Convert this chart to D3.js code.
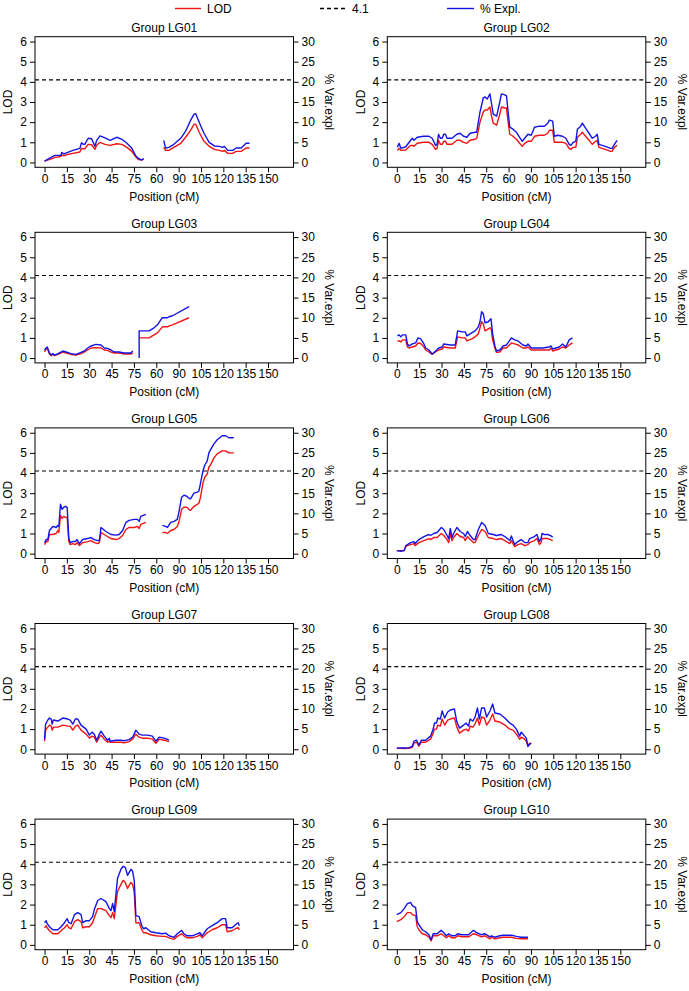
<!DOCTYPE html>
<html><head><meta charset="utf-8">
<script src="https://cdn.jsdelivr.net/npm/d3@7/dist/d3.min.js"></script>
<style>body{margin:0;background:#fff}svg{display:block}text{font-family:"Liberation Sans",Arial,sans-serif}</style>
</head><body><svg id="c" width="689" height="991"></svg>
<script>
// ---- data ----
const groups = ["LG01","LG02","LG03","LG04","LG05","LG06","LG07","LG08","LG09","LG10"];
const threshold = 4.1;
const xTickValues = [0,15,30,45,60,75,90,105,120,135,150];
const xTickLabels = ["0","15","30","45","75","60","90","105","120","135","150"];
const lodTicks = [0,1,2,3,4,5,6];
const pveTicks = [0,5,10,15,20,25,30];
const legendLabels = ["LOD","4.1","% Expl."];

const lg01Pos = [0,5.6,7,9,11,11.5,13,14.7,19,23.7,24.8,26,27,29.3,31.6,33.8,35,37.2,40.6,44,48.5,51.9,55.3,58.6,61,63,65.4,66.5,73,80,81.2,83.5,86.8,91.4,94.7,98.1,100.4,101.5,103.8,107,110.5,114,117.3,119.5,120.7,123,126.3,128.6,132,135.3,137.6];
const lg01Lod = [0.07,0.2,0.25,0.27,0.3,0.38,0.33,0.38,0.45,0.52,0.7,0.68,0.68,0.9,0.88,0.65,0.85,1.0,0.9,0.85,0.93,0.9,0.75,0.55,0.3,0.15,0.12,0.18,null,0.75,0.6,0.6,0.75,0.95,1.25,1.6,1.9,1.9,1.5,1.05,0.8,0.65,0.6,0.55,0.6,0.45,0.45,0.55,0.55,0.72,0.72];
const lg01Pve = [0.35,1.5,1.75,1.75,1.75,2.5,2.1,2.4,3.0,3.5,4.9,4.5,4.5,6.0,5.9,4.0,5.5,6.6,6.1,5.5,6.25,5.75,4.75,3.5,1.75,1.0,0.6,1.0,null,5.5,3.6,3.75,4.5,6.0,7.75,10.5,12.0,12.1,10.0,7.25,5.0,4.1,4.0,3.75,4.0,3.0,3.0,3.6,3.6,4.75,4.75];

const lg02Pos = [0.4,1.5,2.7,6,9.3,10.4,11.5,13.7,18,21.5,23.7,26,27,28,29.2,30.4,31.5,32.6,33.7,37,40.3,42.5,44.8,47,49.2,52.5,53.6,55.8,58,59.2,60.7,62.5,63.6,64.7,67,69.1,70.2,72.5,73.6,74.7,75.8,78,80.2,82.4,84.2,85.8,88,90.2,92.4,95.7,99,101.3,102.4,104.6,105.7,107.9,111.2,113.4,115.7,116.8,118.3,120.1,121.2,123.4,124.5,126.7,129,131.2,133.4,134.5,135.6,140,143.4,144.5,145.6,147.8];
const lg02Lod = [0.6,0.7,0.6,0.62,0.85,0.85,0.8,0.95,1.0,1.0,0.9,0.65,0.7,1.1,0.9,0.9,1.05,1.05,0.9,0.9,1.1,1.1,1.0,0.95,1.1,1.15,1.2,2.0,2.5,2.6,2.6,2.75,2.3,1.95,1.85,2.4,2.75,2.7,2.7,2.0,1.4,1.3,1.15,0.95,0.8,0.95,1.05,1.05,1.3,1.35,1.35,1.45,1.6,1.6,1.0,1.0,1.0,0.95,0.7,0.65,0.75,0.75,1.25,1.4,1.5,1.3,1.1,0.9,1.05,1.1,0.75,0.65,0.55,0.55,0.7,0.85];
const lg02Pve = [3.75,4.75,3.5,3.9,5.5,6.0,5.5,6.25,6.5,6.5,6.0,4.25,4.5,7.0,6.0,6.0,7.0,7.0,6.0,6.0,7.0,7.25,6.5,6.25,7.25,7.5,7.5,12.5,16.0,16.25,15.75,17.0,14.5,12.0,11.5,15.0,17.0,16.75,16.5,12.5,8.75,8.25,7.5,6.25,5.25,6.0,7.0,6.75,8.75,9.0,9.0,9.75,10.5,10.25,6.5,6.75,6.5,6.0,4.5,4.25,5.0,5.25,8.25,9.0,9.75,8.5,7.25,6.0,6.5,7.0,4.5,4.0,3.5,3.5,4.25,5.5];

const lg03Pos = [0,1.1,1.8,3.3,4.5,5.6,6.7,9,12.3,14.5,17.8,21.2,24.5,26.7,29,31.2,34.5,37.9,40.1,42.3,44.6,46.8,50.1,53.5,57.9,59.3,61.5,63.5,63.5,70.2,73.5,75.8,78,79.1,82.5,83.6,85.9,97];
const lg03Lod = [0.3,0.45,0.5,0.2,0.12,0.2,0.12,0.18,0.3,0.25,0.18,0.15,0.22,0.3,0.4,0.5,0.52,0.5,0.4,0.38,0.3,0.25,0.25,0.2,0.2,0.25,null,null,1.0,1.0,1.15,1.25,1.45,1.55,1.55,1.6,1.65,2.0];
const lg03Pve = [2.0,2.5,2.75,1.25,0.75,1.1,0.75,1.1,1.75,1.5,1.1,0.9,1.4,1.75,2.5,3.0,3.4,3.25,2.5,2.4,2.0,1.5,1.5,1.25,1.25,1.75,null,0,6.75,6.75,7.5,8.25,9.5,10.0,10.0,10.25,10.5,12.75];

const lg04Pos = [0.4,1.6,2.7,3.8,6,7.1,8.2,10.4,12.6,14.2,16,18.2,19.3,21.5,23.7,26,28.1,30.4,31.5,35.9,39.2,40.8,43.7,45.9,47,50.3,52.5,54.7,55.8,56.9,58,59.2,61.4,62.5,63.2,64.3,65.8,66.9,69.1,71.3,73.6,76.9,79.1,81.3,84.6,86.9,88,90.2,93.5,97.9,102.4,103.5,104.6,109,111.2,113.4,115.7,117.9];
const lg04Lod = [0.85,0.85,0.8,0.9,0.9,0.55,0.5,0.55,0.6,0.75,0.72,0.55,0.4,0.3,0.18,0.3,0.4,0.45,0.55,0.5,0.5,1.05,1.0,1.0,0.85,0.95,1.05,1.2,1.5,1.8,1.7,1.35,1.45,1.5,1.5,0.9,0.5,0.28,0.3,0.5,0.5,0.75,0.7,0.65,0.5,0.5,0.55,0.4,0.4,0.4,0.4,0.5,0.35,0.45,0.55,0.5,0.65,0.75];
const lg04Pve = [5.5,5.75,5.25,5.75,5.75,3.5,3.0,3.5,3.75,5.0,4.75,3.5,2.5,2.0,1.0,1.75,2.5,2.75,3.5,3.25,3.25,6.75,6.5,6.5,5.5,6.25,6.75,7.75,9.0,11.5,11.0,8.75,9.0,9.5,9.75,6.0,3.0,1.75,2.0,3.0,3.25,5.0,4.5,4.25,3.25,3.0,3.5,2.5,2.5,2.5,2.75,3.0,2.25,2.75,3.5,2.75,4.5,5.0];

const lg05Pos = [0,1.1,2.2,3.3,5.6,7.8,8.9,9.6,10.7,11.8,12.9,14,15.2,16.3,17.2,18.9,20.7,21.8,23.4,25.6,29,31.2,33.4,35.7,36.8,37.9,41.2,44.6,47.9,50.1,52.4,54.6,56.8,60.2,62.4,63.5,64.6,68,73,79.1,81.3,82.5,84.7,86.9,89.1,90.3,92,93.6,95.4,97,98,100.3,102.5,103.6,104.7,106.3,107.6,109.2,110.3,111.4,113.7,115.9,119.2,121.5,123.7,127];
const lg05Lod = [0.45,0.6,0.6,0.95,0.95,1.0,1.15,1.05,1.9,1.75,1.85,1.8,1.8,0.6,0.45,0.5,0.45,0.55,0.4,0.55,0.6,0.65,0.55,0.5,0.55,1.05,0.9,0.75,0.7,0.75,0.9,1.2,1.3,1.3,1.35,1.25,1.45,1.55,null,1.05,1.05,1.0,1.15,1.2,1.35,1.6,2.2,2.3,2.3,2.2,2.15,2.35,2.45,2.5,2.8,3.5,3.8,3.95,4.3,4.4,4.75,4.95,5.1,5.1,5.0,5.0];
const lg05Pve = [2.75,3.5,3.5,5.75,6.75,6.5,7.0,6.75,12.25,11.0,11.5,11.75,11.5,3.75,2.75,3.0,3.0,3.5,2.5,3.5,3.75,4.0,3.5,3.25,3.25,6.5,5.5,4.75,4.6,4.75,5.75,7.75,8.25,8.5,8.5,8.0,9.25,9.75,null,7.0,6.75,6.5,7.75,8.0,8.5,10.5,14.0,14.5,14.25,13.75,13.6,15.0,15.25,15.5,17.5,20.5,22.0,23.0,25.0,25.75,27.25,28.25,29.25,29.25,28.75,28.75];

const lg06Pos = [0,2.7,4.9,6,7.1,9.3,11.5,12.2,14.8,18.2,21.5,22.6,24.8,27,29.9,31.5,33.7,34.8,35.9,37,38.1,40.3,42.5,44.8,45.9,47.4,49.2,51.4,52.5,54.7,56.9,59.2,61.4,64.7,66.9,70.2,72.5,75.8,76.9,78,79.1,81.3,83.5,85.8,88,89.1,92.4,94,95.7,96.8,97.5,99,101.3,103.5,104.6];
const lg06Lod = [0.15,0.15,0.15,0.35,0.4,0.45,0.5,0.4,0.55,0.65,0.75,0.7,0.8,0.8,1.0,0.9,0.7,0.55,1.0,0.65,0.8,1.0,0.85,0.8,0.65,0.85,0.7,0.55,0.55,0.9,1.2,1.1,0.8,0.75,0.7,0.75,0.65,0.5,0.65,0.5,0.35,0.45,0.5,0.4,0.45,0.55,0.65,0.75,0.45,0.55,0.75,0.75,0.75,0.68,0.65];
const lg06Pve = [0.75,0.6,0.75,2.0,2.25,2.75,3.0,2.5,3.5,4.25,4.75,4.5,5.0,5.25,6.5,6.0,4.5,3.75,6.25,4.0,5.0,6.5,5.5,5.0,4.25,5.5,4.5,3.5,3.5,6.0,7.75,7.0,5.0,4.75,4.5,4.75,4.25,3.25,4.4,3.25,2.25,3.0,3.5,2.75,2.75,3.75,4.25,4.75,3.0,3.75,5.0,4.75,4.75,4.4,4.1];

const lg07Pos = [0,0.7,1.1,2.2,3.3,4.5,5.1,6,8.9,12.3,15.6,17.2,19,20.7,22.3,24.5,27.9,30.1,31.9,33.4,35,36.8,37.9,40.1,42.3,43.5,44.1,47.9,51.3,53.5,56.8,59.1,61.3,63.5,65.7,69.1,72.4,74.7,76.9,80.2,83.6];
const lg07Lod = [0.4,0.95,1.0,1.1,1.2,1.15,0.95,1.1,1.1,1.2,1.15,1.15,0.95,1.15,1.2,0.95,0.75,0.55,0.65,0.6,0.35,0.6,0.7,0.5,0.35,0.4,0.35,0.35,0.35,0.32,0.38,0.5,0.75,0.6,0.55,0.55,0.5,0.3,0.5,0.45,0.38];
const lg07Pve = [2.5,6.25,6.5,7.25,7.75,7.5,6.25,7.25,7.0,7.75,7.5,7.25,6.25,7.5,7.5,6.0,5.0,3.5,4.25,3.75,2.25,3.75,4.5,3.25,2.25,2.75,2.0,2.25,2.25,2.1,2.4,3.0,4.75,3.75,3.5,3.5,3.25,2.0,3.0,2.75,2.25];

const lg08Pos = [0,2.7,4.9,8.2,10.4,11.5,13.3,14.8,16.4,19.3,22.6,24.4,25.3,26.6,27.5,29.2,30.4,32.1,34.1,35.9,38.6,40.3,42.1,44.8,46.5,48.1,49.2,51,52.5,54.1,55.4,56.9,58.7,60.3,62.5,64.3,65.8,69.1,72.5,75.8,78,80.2,82.4,83.5,85.8,86.9,88,89.1,90.2];
const lg08Lod = [0.05,0.05,0.04,0.05,0.1,0.3,0.35,0.15,0.35,0.35,0.5,0.8,1.0,1.0,1.2,1.15,1.5,1.2,1.45,1.5,1.55,1.1,0.8,0.95,1.0,0.9,1.15,1.1,1.25,1.55,1.2,1.6,1.55,1.2,1.45,1.75,1.4,1.35,1.2,1.0,0.95,0.75,0.5,0.6,0.5,0.4,0.15,0.3,0.25];
const lg08Pve = [0.25,0.35,0.3,0.35,0.75,2.0,2.25,1.0,2.25,2.25,3.25,5.0,6.5,6.5,7.75,7.5,9.5,7.75,9.25,9.75,10.0,6.75,5.25,6.0,6.5,5.75,7.5,7.0,8.0,10.25,7.5,10.25,10.25,8.0,9.5,11.25,9.0,8.75,7.75,6.5,6.0,5.0,3.25,4.25,3.25,2.75,0.75,1.25,1.5];

const lg09Pos = [0,1.1,1.8,3.3,5.6,8.9,11.1,13.4,15.2,16.3,17.8,20.1,22.3,24.5,25.6,27.9,30.1,32.3,33.4,35.7,37.9,41.2,43.5,44.6,45.7,46.8,47.9,49,51.3,52.8,54.2,55.7,58,59.1,60.2,61.3,63.5,65.3,66.4,68,71.3,74.7,79.1,81.3,83.6,85.8,86.9,89.1,92,93.6,95.8,99.1,102.5,104.3,105.8,109.2,112.5,115.9,119.2,121.5,122.6,125.9,128.1,129.9,130.8];
const lg09Lod = [0.85,0.95,0.85,0.7,0.55,0.55,0.7,0.85,1.0,0.85,0.8,1.15,1.25,1.15,0.85,0.9,0.9,1.1,1.35,1.8,1.8,1.7,1.45,1.35,1.6,1.3,2.0,2.65,3.0,3.2,3.1,2.8,3.1,3.0,2.6,1.1,1.1,0.75,0.6,0.6,0.5,0.45,0.42,0.42,0.35,0.3,0.28,0.42,0.55,0.45,0.35,0.35,0.42,0.5,0.35,0.6,0.75,0.85,1.0,1.0,0.65,0.7,0.8,0.85,0.75];
const lg09Pve = [5.5,6.0,5.25,4.5,3.75,3.75,4.5,5.5,6.5,5.5,5.25,7.5,8.0,7.5,5.5,6.0,6.0,7.0,8.75,11.0,11.5,10.75,9.0,8.5,10.25,8.25,12.5,16.5,18.75,19.5,19.25,17.25,18.75,18.25,16.0,7.25,7.0,4.75,4.0,4.25,3.25,3.0,2.75,2.9,2.25,2.0,1.9,2.75,3.6,2.75,2.25,2.25,2.75,3.0,2.25,4.0,4.75,5.5,6.5,6.5,4.25,4.25,5.0,5.5,4.75];

const lg10Pos = [0,2.7,4.9,7.1,9.3,10.4,12.6,13.7,14.8,17.1,19.3,21.5,23,24.4,27,29.7,31.5,33.2,34.8,37,39.2,40.8,43.7,48.1,51.4,53.6,56.9,59.2,61.4,62.5,63.6,65.8,69.1,71.3,76.9,80.2,83.5,88];
const lg10Lod = [1.15,1.25,1.4,1.6,1.6,1.5,1.45,0.9,0.75,0.55,0.5,0.4,0.2,0.45,0.45,0.55,0.45,0.35,0.45,0.35,0.35,0.45,0.4,0.4,0.55,0.5,0.4,0.45,0.35,0.3,0.38,0.3,0.35,0.38,0.38,0.32,0.3,0.3];
const lg10Pve = [7.5,8.0,9.0,10.25,10.5,9.75,9.25,5.75,5.0,3.75,3.25,2.5,1.25,2.75,2.75,3.6,3.0,2.25,2.75,2.25,2.25,2.75,2.5,2.5,3.6,3.0,2.5,2.75,2.25,2.0,2.25,1.9,2.25,2.4,2.4,2.1,1.9,1.9];

const seriesData = {
  LG01:[lg01Pos,lg01Lod,lg01Pve], LG02:[lg02Pos,lg02Lod,lg02Pve], LG03:[lg03Pos,lg03Lod,lg03Pve],
  LG04:[lg04Pos,lg04Lod,lg04Pve], LG05:[lg05Pos,lg05Lod,lg05Pve], LG06:[lg06Pos,lg06Lod,lg06Pve],
  LG07:[lg07Pos,lg07Lod,lg07Pve], LG08:[lg08Pos,lg08Lod,lg08Pve], LG09:[lg09Pos,lg09Lod,lg09Pve],
  LG10:[lg10Pos,lg10Lod,lg10Pve]
};

// ---- layout ----
const RED = "#f01414", BLUE = "#1414e6";
const colX = [35, 387.3], boxW = 258.5, boxH = 130.6, top0 = 36.7, pitch = 195.6;
const FS = "12px";
const svg = d3.select("#c");

// legend
const lg = svg.append("g");
const legItems = [
  {x1:175, x2:201, color:RED, dash:null, tx:207, label:legendLabels[0]},
  {x1:320, x2:347, color:"#000", dash:"4,3", tx:352, label:legendLabels[1]},
  {x1:447, x2:474, color:BLUE, dash:null, tx:480, label:legendLabels[2]}
];
legItems.forEach(it=>{
  lg.append("line").attr("x1",it.x1).attr("x2",it.x2).attr("y1",8.5).attr("y2",8.5)
    .attr("stroke",it.color).attr("stroke-width",1.4).attr("stroke-dasharray",it.dash);
  lg.append("text").attr("x",it.tx).attr("y",8.5).attr("dy","0.35em").style("font-size",FS).text(it.label);
});

groups.forEach((g,i)=>{
  const col = i%2, row = Math.floor(i/2);
  const left = colX[col], top = top0 + row*pitch;
  const x = d3.scaleLinear().domain([-6.4,167.1]).range([left, left+boxW]);
  const y = d3.scaleLinear().domain([-0.24,6.24]).range([top+boxH, top]);
  const y2 = d3.scaleLinear().domain([-1.2,31.2]).range([top+boxH, top]);
  const p = svg.append("g");

  // title
  p.append("text").attr("x",left+boxW/2).attr("y",top-9).attr("dy","0.35em")
    .attr("text-anchor","middle").style("font-size",FS).text("Group "+g);

  // axes
  const ax = p.append("g").attr("transform",`translate(0,${top+boxH})`)
    .call(d3.axisBottom(x).tickValues(xTickValues).tickFormat((d,k)=>xTickLabels[k]).tickSize(5).tickPadding(2).tickSizeOuter(0));
  const ayl = p.append("g").attr("transform",`translate(${left},0)`)
    .call(d3.axisLeft(y).tickValues(lodTicks).tickFormat(d3.format("d")).tickSize(5).tickPadding(3).tickSizeOuter(0));
  const ayr = p.append("g").attr("transform",`translate(${left+boxW},0)`)
    .call(d3.axisRight(y2).tickValues(pveTicks).tickFormat(d3.format("d")).tickSize(5).tickPadding(3).tickSizeOuter(0));
  [ax,ayl,ayr].forEach(a=>{
    a.select(".domain").remove();
    a.selectAll("text").style("font-size",FS).attr("fill","#000").style("font-family",'"Liberation Sans",Arial,sans-serif');
    a.selectAll("line").attr("stroke","#000");
  });

  // box
  p.append("rect").attr("x",left).attr("y",top).attr("width",boxW).attr("height",boxH)
    .attr("fill","none").attr("stroke","#000").attr("stroke-width",1);

  // axis labels
  p.append("text").attr("x",left+boxW/2).attr("y",top+boxH+29).attr("dy","0.35em")
    .attr("text-anchor","middle").style("font-size",FS).text("Position (cM)");
  p.append("text").attr("transform",`translate(${left-27},${top+boxH/2}) rotate(-90)`).attr("dy","0.35em")
    .attr("text-anchor","middle").style("font-size",FS).text("LOD");
  p.append("text").attr("transform",`translate(${left+boxW+36},${top+boxH/2}) rotate(90)`).attr("dy","0.35em")
    .attr("text-anchor","middle").style("font-size",FS).text("% Var.expl");

  // threshold
  p.append("line").attr("x1",left).attr("x2",left+boxW).attr("y1",y(threshold)).attr("y2",y(threshold))
    .attr("stroke","#000").attr("stroke-width",1.1).attr("stroke-dasharray","4,3");

  // series
  const [pos,lod,pve] = seriesData[g];
  const rows = pos.map((d,k)=>({x:d, lod:lod[k], pve:pve[k]}));
  const lineL = d3.line().defined(d=>d.lod!=null).x(d=>x(d.x)).y(d=>y(d.lod));
  const lineP = d3.line().defined(d=>d.pve!=null).x(d=>x(d.x)).y(d=>y2(d.pve));
  p.append("path").datum(rows).attr("d",lineL).attr("fill","none").attr("stroke",RED).attr("stroke-width",1.4).attr("stroke-linejoin","round");
  p.append("path").datum(rows).attr("d",lineP).attr("fill","none").attr("stroke",BLUE).attr("stroke-width",1.4).attr("stroke-linejoin","round");
});
</script></body></html>
